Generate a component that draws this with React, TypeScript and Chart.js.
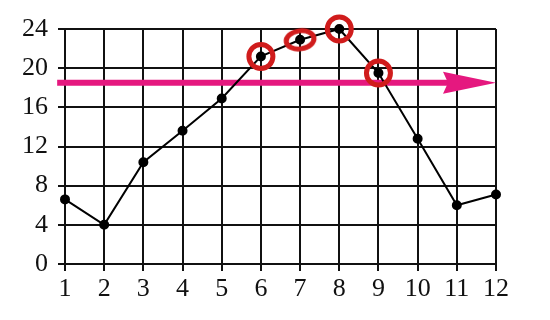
import React, { useEffect, useRef } from "react";
import { Chart, registerables } from "chart.js";

Chart.register(...registerables);

const months = [1, 2, 3, 4, 5, 6, 7, 8, 9, 10, 11, 12];
const values = [6.6, 4.0, 10.4, 13.6, 16.9, 21.2, 22.9, 24.0, 19.5, 12.8, 6.0, 7.1];
const highlighted = [6, 7, 8, 9];
const yTickLabels = [0, 4, 8, 12, 16, 20, 24];
const arrowLevel = 18.5;
const arrowFrom = 0.8;
const arrowTo = 12;

const FONT = "'Liberation Serif', 'DejaVu Serif', serif";

function makeEllipse(): HTMLCanvasElement {
  const c = document.createElement("canvas");
  c.width = 40;
  c.height = 30;
  const g = c.getContext("2d")!;
  g.strokeStyle = "#d01c1c";
  g.lineWidth = 5;
  g.beginPath();
  g.ellipse(20, 15, 14, 9, -0.15, 0, Math.PI * 2);
  g.stroke();
  return c;
}

const arrowPlugin = {
  id: "arrowPlugin",
  beforeDatasetsDraw(chart: any) {
    const { ctx, scales } = chart;
    const xs = scales.x;
    const ys = scales.y;
    const y = ys.getPixelForValue(arrowLevel);
    const x0 = xs.getPixelForValue(arrowFrom);
    const tip = xs.getPixelForValue(arrowTo);
    const headLen = 53;
    const headHalf = 11;
    ctx.save();
    ctx.fillStyle = "#e5187f";
    ctx.strokeStyle = "#e5187f";
    ctx.lineWidth = 6;
    ctx.beginPath();
    ctx.moveTo(x0, y);
    ctx.lineTo(tip - headLen + 6, y);
    ctx.stroke();
    ctx.beginPath();
    ctx.moveTo(tip, y);
    ctx.lineTo(tip - headLen, y - headHalf);
    ctx.lineTo(tip - headLen + 5, y);
    ctx.lineTo(tip - headLen, y + headHalf);
    ctx.closePath();
    ctx.fill();
    ctx.restore();
  },
};

export default function App() {
  const ref = useRef<HTMLCanvasElement>(null);
  useEffect(() => {
    const ellipse = makeEllipse();
    const chart = new Chart(ref.current!, {
      type: "line",
      data: {
        datasets: [
          {
            data: months.map((m, i) => ({ x: m, y: values[i] })),
            borderColor: "#000",
            borderWidth: 2,
            pointRadius: 4,
            pointBackgroundColor: "#000",
            pointBorderColor: "#000",
            tension: 0,
            order: 2,
            clip: false as any,
          },
          {
            data: highlighted.map((m) => ({ x: m, y: values[m - 1] })),
            showLine: false,
            pointRadius: 12,
            pointBorderWidth: 5,
            pointBorderColor: "#d01c1c",
            pointBackgroundColor: "rgba(0,0,0,0)",
            pointStyle: highlighted.map((m) => (m === 7 ? ellipse : "circle")) as any,
            order: 1,
            clip: false as any,
          },
        ],
      },
      options: {
        responsive: false,
        animation: false,
        events: [],
        layout: { padding: { top: 29, right: 54, left: 0, bottom: 0 } },
        plugins: { legend: { display: false }, tooltip: { enabled: false } },
        scales: {
          x: {
            type: "linear",
            min: 1,
            max: 12,
            afterFit: (s: any) => {
              s.height = 56;
            },
            ticks: {
              stepSize: 1,
              color: "#111",
              font: { family: FONT, size: 26 },
              padding: 3,
            },
            grid: {
              color: "#111",
              lineWidth: 2,
              tickLength: 7,
              tickColor: "#111",
            },
            border: { color: "#111", width: 2 },
          },
          y: {
            min: 0,
            max: 24,
            afterFit: (s: any) => {
              s.width = 65;
            },
            ticks: {
              stepSize: 2,
              color: "#111",
              font: { family: FONT, size: 26 },
              padding: 10,
              callback: (v: any) => (yTickLabels.includes(Number(v)) ? String(v) : ""),
            },
            grid: {
              color: "#111",
              lineWidth: 2,
              tickLength: 7,
              tickColor: (c: any) =>
                yTickLabels.includes(c.tick?.value) ? "#111" : "rgba(0,0,0,0)",
            },
            border: { color: "#111", width: 2 },
          },
        },
      },
      plugins: [arrowPlugin],
    });
    return () => chart.destroy();
  }, []);
  return (
    <div style={{ position: "absolute", left: 0, top: 0, width: 550, height: 320, background: "#fff" }}>
      <canvas ref={ref} width={550} height={320} />
    </div>
  );
}
